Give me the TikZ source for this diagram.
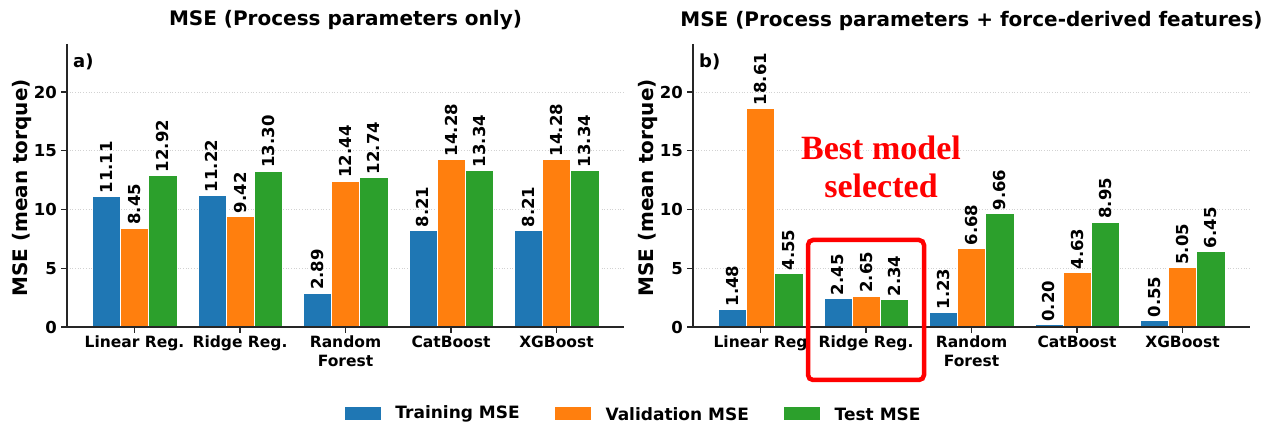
\documentclass[tikz,border=0pt]{standalone}
\usepackage{fontspec}
\setmainfont{DejaVu Sans}
\newfontfamily\notefont{Liberation Serif}
\usetikzlibrary{positioning}

\definecolor{trainblue}{HTML}{1F77B4}
\definecolor{valorange}{HTML}{FF7F0E}
\definecolor{testgreen}{HTML}{2CA02C}

\begin{document}
\begin{tikzpicture}[
            x=1pt,
            y=1pt,
            every node/.style={
                    inner sep=0pt,
                    font=\bfseries
                },
            bar/.style={
                    draw=white,
                    line width=0.4pt
                },
            valuelabel/.style={
                    rotate=90,
                    anchor=west,
                    font=\fontsize{16.5}{19}\selectfont\bfseries
                },
            ticklabel/.style={
                    anchor=east,
                    font=\fontsize{16.5}{19}\selectfont\bfseries
                },
            grouplabel/.style={
                    anchor=north,
                    align=center,
                    font=\fontsize{15.5}{18.5}\selectfont\bfseries
                },
            charttitle/.style={
                    font=\fontsize{20}{24}\selectfont\bfseries
                },
            axislabel/.style={
                    rotate=90,
                    font=\fontsize{20}{24}\selectfont\bfseries
                },
            panellabel/.style={
                    anchor=west,
                    font=\fontsize{18}{21}\selectfont\bfseries
                },
            gridline/.style={
                    draw=gray!35,
                    dotted,
                    line width=0.7pt
                },
            spine/.style={
                    draw=black!85,
                    line width=1.4pt
                },
            legendpatch/.style={
                    minimum width=36pt,
                    minimum height=13pt
                },
            legendtext/.style={
                    font=\fontsize{17}{20}\selectfont\bfseries
                },
            bestnote/.style={
                    align=center,
                    text=red,
                    font=\notefont\bfseries\fontsize{34}{38}\selectfont
                },
            bestbox/.style={
                    draw=red,
                    line width=4.5pt,
                    rounded corners=5pt
                }
        ]

        \useasboundingbox (0,0) rectangle (1271,428);

        % a) process parameters only
        \begin{scope}[shift={(134.5,101)}, x=105.5pt, y=11.75pt]
            \foreach \g in {5,10,15,20}
            \draw[gridline] (-0.64,\g) -- (4.64,\g);
            \foreach \tr/\va/\te [count=\i from 0] in {11.11/8.45/12.92, 11.22/9.42/13.30, 2.89/12.44/12.74, 8.21/14.28/13.34, 8.21/14.28/13.34} {
                    \draw[bar, fill=trainblue] ({\i-0.4},0) rectangle ({\i-0.1333},\tr);
                    \draw[bar, fill=valorange] ({\i-0.1333},0) rectangle ({\i+0.1333},\va);
                    \draw[bar, fill=testgreen] ({\i+0.1333},0) rectangle ({\i+0.4},\te);
                    \node[valuelabel] (a-tr-\i) at ({\i-0.2667},{\tr+0.25}) {\tr};
                    \node[valuelabel] (a-va-\i) at (\i,{\va+0.25}) {\va};
                    \node[valuelabel] (a-te-\i) at ({\i+0.2667},{\te+0.25}) {\te};
                }
            \draw[spine] (-0.64,24.1) -- (-0.64,0) -- (4.64,0);
            \foreach \g in {0,5,10,15,20} {
                    \draw[spine, line width=1.1pt] (-0.64,\g) -- ++(-6pt,0);
                    \node[ticklabel, xshift=-10pt] (a-y-\g) at (-0.64,\g) {\g};
                }
            \foreach \name [count=\i from 0] in {Linear Reg., Ridge Reg., Random\\Forest, CatBoost, XGBoost} {
                    \draw[spine, line width=1.1pt] (\i,0) -- ++(0,-6pt);
                    \node[grouplabel, yshift=-9pt] (a-x-\i) at (\i,0) {\name};
                }
        \end{scope}

        % b) process parameters + force-derived features
        \begin{scope}[shift={(760.5,101)}, x=105.5pt, y=11.75pt]
            \foreach \g in {5,10,15,20}
            \draw[gridline] (-0.64,\g) -- (4.64,\g);
            \foreach \tr/\va/\te [count=\i from 0] in {1.48/18.61/4.55, 2.45/2.65/2.34, 1.23/6.68/9.66, 0.20/4.63/8.95, 0.55/5.05/6.45} {
                    \draw[bar, fill=trainblue] ({\i-0.4},0) rectangle ({\i-0.1333},\tr);
                    \draw[bar, fill=valorange] ({\i-0.1333},0) rectangle ({\i+0.1333},\va);
                    \draw[bar, fill=testgreen] ({\i+0.1333},0) rectangle ({\i+0.4},\te);
                    \node[valuelabel] (b-tr-\i) at ({\i-0.2667},{\tr+0.25}) {\tr};
                    \node[valuelabel] (b-va-\i) at (\i,{\va+0.25}) {\va};
                    \node[valuelabel] (b-te-\i) at ({\i+0.2667},{\te+0.25}) {\te};
                }
            \draw[spine] (-0.64,24.1) -- (-0.64,0) -- (4.64,0);
            \foreach \g in {0,5,10,15,20} {
                    \draw[spine, line width=1.1pt] (-0.64,\g) -- ++(-6pt,0);
                    \node[ticklabel, xshift=-10pt] (b-y-\g) at (-0.64,\g) {\g};
                }
            \foreach \name [count=\i from 0] in {Linear Reg, Ridge Reg., Random\\Forest, CatBoost, XGBoost} {
                    \draw[spine, line width=1.1pt] (\i,0) -- ++(0,-6pt);
                    \node[grouplabel, yshift=-9pt] (b-x-\i) at (\i,0) {\name};
                }
        \end{scope}

        % titles, axis labels, panel tags
        \node[charttitle] (title-a) at (345.5,407.5) {MSE (Process parameters only)};
        \node[charttitle] (title-b) at (971.5,407.5) {MSE (Process parameters + force-derived features)};
        \node[axislabel] (ylabel-a) at (22,240) {MSE (mean torque)};
        \node[axislabel] (ylabel-b) at (648,240) {MSE (mean torque)};
        \node[panellabel] (tag-a) at (73,366) {a)};
        \node[panellabel] (tag-b) at (699,366) {b)};

        % best model highlight
        \draw[bestbox] (808,48) rectangle (924,188);
        \node[bestnote] (best-note) at (881,261) {Best model\\selected};

        % legend
        \node[legendpatch, fill=trainblue] (leg-tr) at (363,14) {};
        \node[legendtext, right=14pt of leg-tr] (leg-tr-text) {Training MSE};
        \node[legendpatch, fill=valorange, right=35pt of leg-tr-text] (leg-va) {};
        \node[legendtext, right=14pt of leg-va] (leg-va-text) {Validation MSE};
        \node[legendpatch, fill=testgreen, right=35pt of leg-va-text] (leg-te) {};
        \node[legendtext, right=14pt of leg-te] (leg-te-text) {Test MSE};

    \end{tikzpicture}
\end{document}
